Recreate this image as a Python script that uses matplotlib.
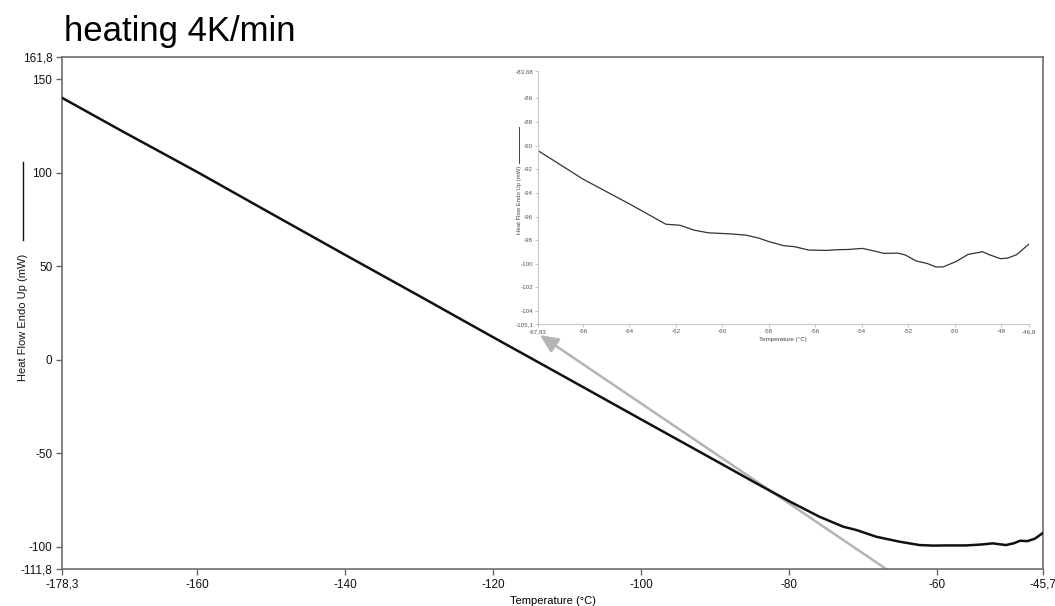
import matplotlib
matplotlib.use("Agg")
import matplotlib.pyplot as plt
from matplotlib.lines import Line2D

plt.rcParams['font.family'] = ['Liberation Sans', 'DejaVu Sans']

# ---- main curve data (Temperature °C, Heat flow mW) ----
main_t = [-178.3, -170, -160, -150, -140, -130, -120, -110, -100, -90, -84.0,
          -79.7, -75.9, -72.7, -70.9, -68.2, -65.1, -62.4, -60.5, -58.8,
          -56.1, -54.0, -52.5, -50.7, -49.6, -48.8, -47.8, -46.8, -45.7]
main_hf = [140.0, 121.8, 100.3, 78.1, 56.0, 34.1, 12.0, -9.9, -31.9, -53.8, -67.0,
           -76.2, -83.9, -89.2, -91.0, -94.6, -97.2, -99.0, -99.3, -99.2,
           -99.2, -98.7, -98.1, -99.0, -98.0, -96.7, -96.9, -95.6, -92.5]

main_xticks = [-178.3, -160, -140, -120, -100, -80, -60, -45.7]
main_xlabels = ["-178,3", "-160", "-140", "-120", "-100", "-80", "-60", "-45,7"]
main_yticks = [161.8, 150, 100, 50, 0, -50, -100, -111.8]
main_ylabels = ["161,8", "150", "100", "50", "0", "-50", "-100", "-111,8"]

# ---- arrow (tail, head) in main data coords ----
arrow_tail = (-66.9, -111.8)
arrow_head = (-113.7, 13.2)

# ---- inset (zoomed) curve data ----
ins_t = [-67.93, -65.97, -63.96, -62.43, -61.82, -61.2, -60.6, -59.66, -58.97,
         -58.43, -57.97, -57.35, -56.9, -56.28, -55.5, -55.04, -54.58, -53.97,
         -53.5, -53.04, -52.43, -52.12, -51.65, -51.19, -50.81, -50.5, -49.96,
         -49.42, -48.8, -48.5, -48.03, -47.72, -47.34, -46.8]
ins_hf = [-90.42, -92.86, -94.97, -96.65, -96.74, -97.16, -97.38, -97.47, -97.58,
          -97.83, -98.14, -98.47, -98.55, -98.84, -98.87, -98.81, -98.79, -98.70,
          -98.9, -99.12, -99.1, -99.26, -99.77, -99.97, -100.27, -100.27, -99.83,
          -99.21, -98.98, -99.24, -99.57, -99.52, -99.24, -98.33]

ins_xticks = [-67.93, -66, -64, -62, -60, -58, -56, -54, -52, -50, -48, -46.8]
ins_xlabels = ["-67,93", "-66", "-64", "-62", "-60", "-58", "-56", "-54", "-52",
               "-50", "-48", "-46,8"]
ins_yticks = [-83.68, -86, -88, -90, -92, -94, -96, -98, -100, -102, -104, -105.1]
ins_ylabels = ["-83,68", "-86", "-88", "-90", "-92", "-94", "-96", "-98", "-100",
               "-102", "-104", "-105,1"]

fig = plt.figure(figsize=(10.55, 6.06), dpi=100)
fig.patch.set_facecolor('white')

W, H = 1055, 606
def rect(l, t, r, b):
    return [l / W, 1 - b / H, (r - l) / W, (b - t) / H]
def fx(px):
    return px / W
def fy(py):
    return 1 - py / H

ax = fig.add_axes(rect(62, 57, 1043, 569))
ax.plot(main_t, main_hf, color='#111111', lw=1.8, zorder=3)
ax.set_xlim(-178.3, -45.7)
ax.set_ylim(-111.8, 161.8)
ax.set_xticks(main_xticks)
ax.set_xticklabels(main_xlabels)
ax.set_yticks(main_yticks)
ax.set_yticklabels(main_ylabels)
ax.tick_params(direction='out', length=4, width=1, color='#666666',
               labelsize=8.5, labelcolor='#111111', pad=3)
for s in ax.spines.values():
    s.set_color('#6e6e6e')
    s.set_linewidth(1.2)
ax.set_xlabel("Temperature (°C)", fontsize=8, labelpad=4)

ax.annotate("", xy=arrow_head, xytext=arrow_tail, xycoords='data',
            arrowprops=dict(arrowstyle='-|>,head_length=1.1,head_width=0.5',
                            color='#b4b4b4', lw=1.8, shrinkA=0, shrinkB=0),
            zorder=2, annotation_clip=False)

# main y label with its line-style sample
fig.text(fx(23), fy(317), "Heat Flow Endo Up (mW)",
         rotation=90, fontsize=8, ha='center', va='center', color='#111111')
fig.add_artist(Line2D([fx(23), fx(23)], [fy(162), fy(240)],
                      color='#111111', lw=1.0))

fig.text(fx(64), fy(41), "heating 4K/min", fontsize=25,
         ha='left', va='baseline', color='black')

# ---- inset ----
ia = fig.add_axes(rect(538, 71, 1029, 324))
ia.patch.set_alpha(0)
ia.plot(ins_t, ins_hf, color='#333333', lw=0.9)
ia.set_xlim(-67.93, -46.8)
ia.set_ylim(-105.1, -83.68)
ia.set_xticks(ins_xticks)
ia.set_xticklabels(ins_xlabels)
ia.set_yticks(ins_yticks)
ia.set_yticklabels(ins_ylabels)
ia.tick_params(direction='out', length=2, width=0.6, color='#bbbbbb',
               labelsize=4.5, labelcolor='#555555', pad=1.5)
for k in ('top', 'right'):
    ia.spines[k].set_visible(False)
for k in ('left', 'bottom'):
    ia.spines[k].set_color('#c8c8c8')
    ia.spines[k].set_linewidth(0.8)
fig.text(fx(783), fy(339), "Temperature (°C)", fontsize=4.5,
         ha='center', va='center', color='#444444')
fig.text(fx(519), fy(200), "Heat Flow Endo Up (mW)",
         rotation=90, fontsize=4.3, ha='center', va='center', color='#444444')
fig.add_artist(Line2D([fx(519), fx(519)], [fy(127), fy(163)],
                      color='#444444', lw=0.7))

fig.savefig("out.png", dpi=100, facecolor='white')
